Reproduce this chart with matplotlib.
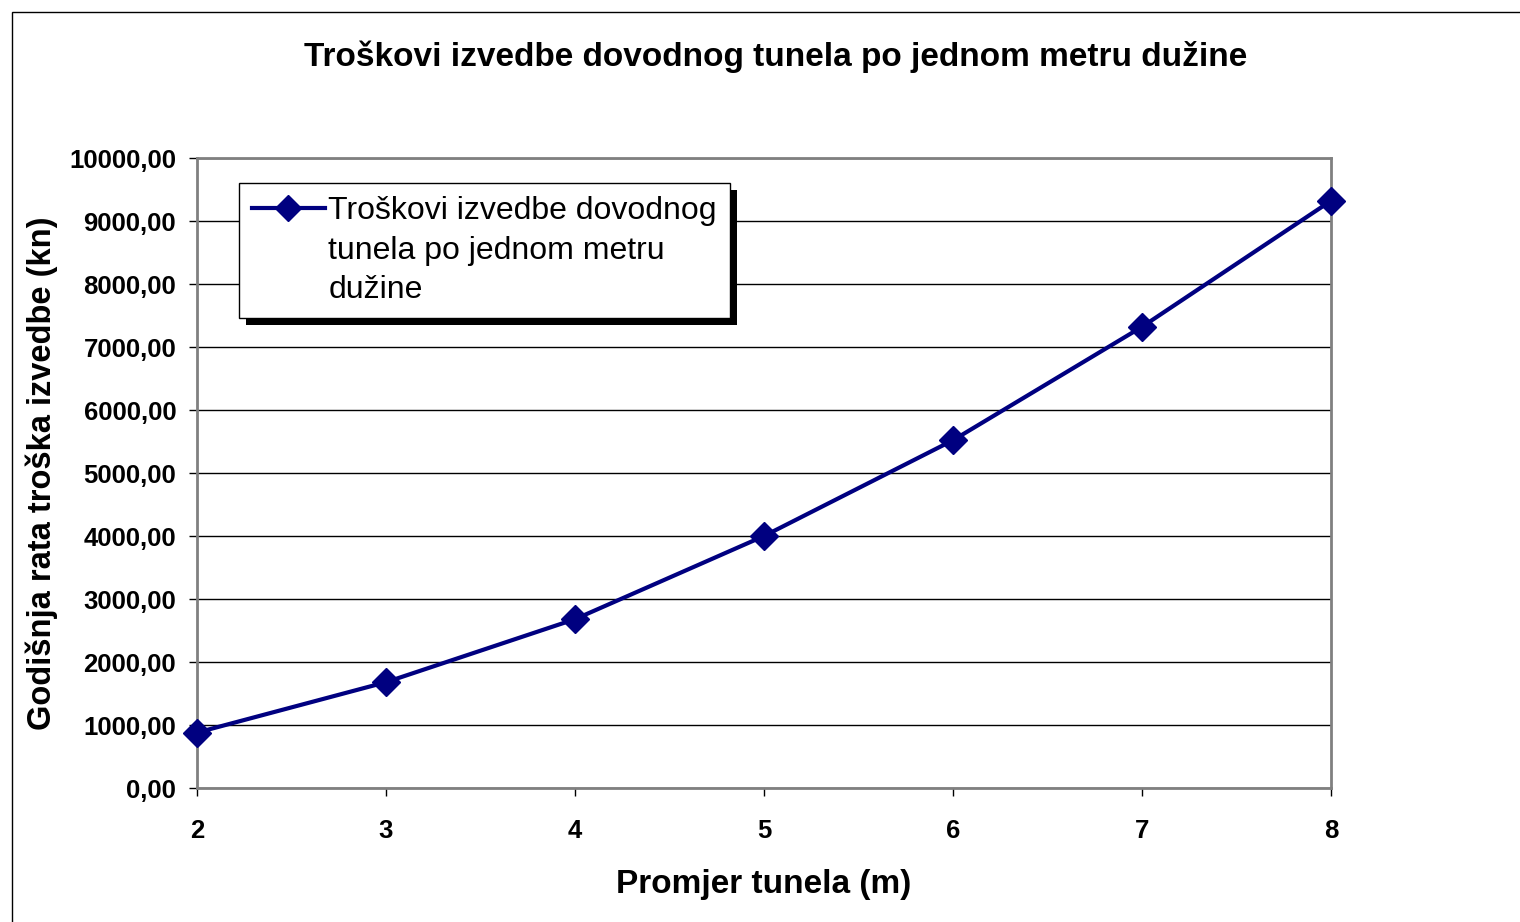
import matplotlib
matplotlib.use("Agg")
import matplotlib.pyplot as plt
import matplotlib.patheffects as pe
from matplotlib.lines import Line2D
from matplotlib.patches import Rectangle
from matplotlib.ticker import FuncFormatter

plt.rcParams['font.family'] = ['Liberation Sans', 'DejaVu Sans']

# data
promjer = [2, 3, 4, 5, 6, 7, 8]
troskovi = [880, 1680, 2680, 4000, 5520, 7320, 9320]
y_ticks = [0, 1000, 2000, 3000, 4000, 5000, 6000, 7000, 8000, 9000, 10000]

title = "Troškovi izvedbe dovodnog tunela po jednom metru dužine"
legend_lines = ["Troškovi izvedbe dovodnog", "tunela po jednom metru", "dužine"]
navy = "#000080"

fig = plt.figure(figsize=(15.2, 9.22), dpi=100)
ax = fig.add_axes([0.1296, 0.1453, 0.746, 0.6833])

ax.plot(promjer, troskovi, color=navy, lw=3, marker='D', ms=14,
        markeredgecolor=navy, zorder=3, clip_on=False)

ax.set_xlim(2, 8)
ax.set_ylim(0, 10000)
ax.set_xticks(promjer)
ax.set_yticks(y_ticks)
ax.yaxis.set_major_formatter(FuncFormatter(lambda v, p: f"{v:.2f}".replace('.', ',')))
ax.grid(axis='y', color='black', lw=1)
ax.set_axisbelow(True)
for s in ax.spines.values():
    s.set_color('#808080')
    s.set_linewidth(2)
ax.tick_params(direction='out', length=6, width=1, color='black', labelsize=18.5)
ax.tick_params(axis='y', pad=9)
ax.tick_params(axis='x', pad=16)
for lab in ax.get_xticklabels() + ax.get_yticklabels():
    lab.set_fontweight('bold')

ax.set_xlabel("Promjer tunela (m)", fontsize=24, fontweight='bold', labelpad=19)
ax.set_ylabel("Godišnja rata troška izvedbe (kn)", fontsize=23.5,
              fontweight='bold', labelpad=8)

fig.text(0.5105, 0.938, title, ha='center', va='center', fontsize=24,
         fontweight='bold')

handles = [Line2D([], [], color=navy, lw=3, marker='D', ms=13),
           Line2D([], [], color='none'),
           Line2D([], [], color='none')]
leg = ax.legend(handles, legend_lines, loc='upper left',
                bbox_to_anchor=(0.037, 0.96), fontsize=23, frameon=True,
                fancybox=False, edgecolor='black', facecolor='white',
                framealpha=1, shadow=False,
                labelspacing=0.3, handlelength=2.3, handletextpad=0.1,
                borderpad=0.4, borderaxespad=0)
frame = leg.get_frame()
frame.set_linewidth(1)
frame.set_path_effects([pe.SimplePatchShadow(offset=(5, -5), shadow_rgbFace='black',
                                             alpha=1), pe.Normal()])

# outer chart border
fig.patches.append(Rectangle((12 / 1520, -0.1), 1.1, 1.1 - 12 / 922,
                             transform=fig.transFigure, fill=False,
                             edgecolor='black', lw=1))

fig.savefig("out.png", dpi=100)
